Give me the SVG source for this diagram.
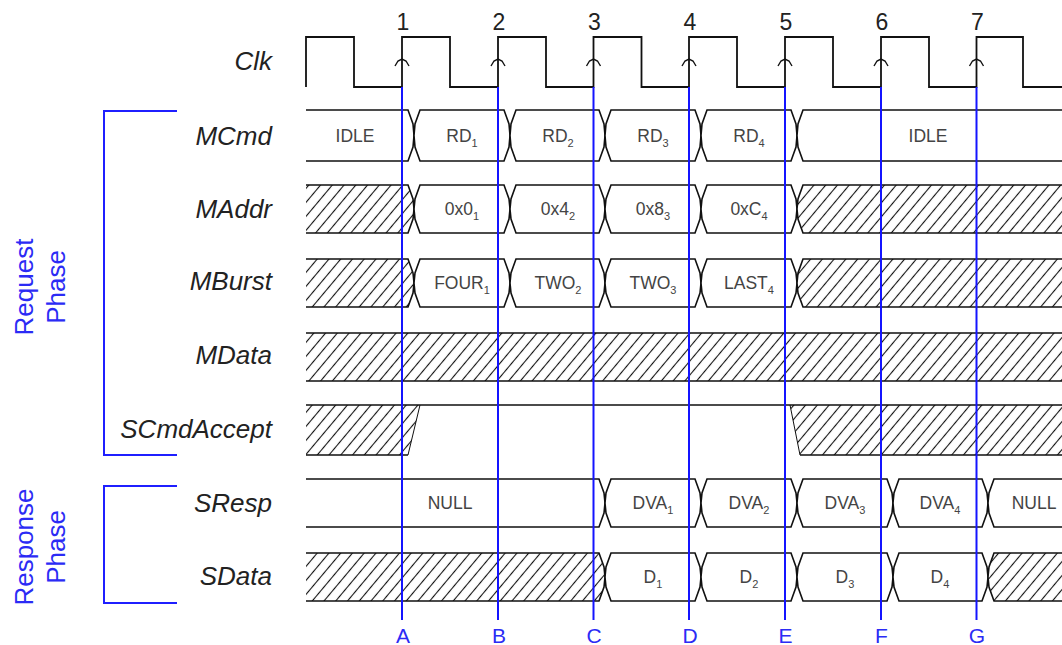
<svg xmlns="http://www.w3.org/2000/svg" width="1062" height="645" viewBox="0 0 1062 645">
<style>
.sig{fill:#fff;stroke:#111;stroke-width:1.6;stroke-linejoin:miter}
.hat{fill:url(#hatch);stroke:#111;stroke-width:1.6}
.ln{fill:none;stroke:#111;stroke-width:1.6}
.thin{fill:none;stroke:#111;stroke-width:1}
.clk{fill:none;stroke:#111;stroke-width:1.8}
.chev{fill:none;stroke:#111;stroke-width:1.4}
.edge{stroke:#1414ff;stroke-width:2}
.br{fill:none;stroke:#1f1fff;stroke-width:2}
.lbl{font-family:"Liberation Sans",Arial,sans-serif;font-style:italic;font-size:26px;fill:#222;text-anchor:end}
.val{font-family:"Liberation Sans",Arial,sans-serif;font-size:17.5px;fill:#444;text-anchor:middle}
.sub{font-size:11px}
.num{font-family:"Liberation Sans",Arial,sans-serif;font-size:23px;fill:#222;text-anchor:middle}
.let{font-family:"Liberation Sans",Arial,sans-serif;font-size:21px;fill:#2b2bf5;text-anchor:middle}
.ph{font-family:"Liberation Sans",Arial,sans-serif;font-size:26px;fill:#2b2bf5;text-anchor:middle}
</style>
<defs>
<pattern id="hatch" patternUnits="userSpaceOnUse" width="9" height="9" patternTransform="rotate(40)">
<rect width="9" height="9" fill="#fff"/>
<line x1="4.5" y1="-1" x2="4.5" y2="10" stroke="#111" stroke-width="1.1"/>
</pattern>
</defs>

<g id="phase-labels">
<path class="br" d="M177,111 H104 V455 H177"/>
<path class="br" d="M177,486 H104 V603 H177"/>
<text class="ph" transform="translate(33,287) rotate(-90)">Request</text>
<text class="ph" transform="translate(65,287) rotate(-90)">Phase</text>
<text class="ph" transform="translate(33,547) rotate(-90)">Response</text>
<text class="ph" transform="translate(65,547) rotate(-90)">Phase</text>
</g>

<g id="Clk">
<text class="lbl" x="272" y="70">Clk</text>
<path class="clk" d="M306,87 V37 H354 V87 H402 V37 H450 V87 H498 V37 H546 V87 H593.5 V37 H641.5 V87 H689 V37 H737 V87 H785 V37 H833 V87 H881 V37 H929 V87 H976.5 V37 H1023 V87 H1062"/>
<g class="chev">
<path d="M395,66 L398,61 L402,59 L406,61 L409,66"/>
<path d="M491,66 L494,61 L498,59 L502,61 L505,66"/>
<path d="M586.5,66 L589.5,61 L593.5,59 L597.5,61 L600.5,66"/>
<path d="M682,66 L685,61 L689,59 L693,61 L696,66"/>
<path d="M778,66 L781,61 L785,59 L789,61 L792,66"/>
<path d="M874,66 L877,61 L881,59 L885,61 L888,66"/>
<path d="M969.5,66 L972.5,61 L976.5,59 L980.5,61 L983.5,66"/>
</g>
<text class="num" x="403" y="30">1</text>
<text class="num" x="499" y="30">2</text>
<text class="num" x="594.5" y="30">3</text>
<text class="num" x="690" y="30">4</text>
<text class="num" x="786" y="30">5</text>
<text class="num" x="882" y="30">6</text>
<text class="num" x="977.5" y="30">7</text>
</g>

<g id="MCmd">
<text class="lbl" x="272" y="145">MCmd</text>
<path class="sig" d="M306,110 H408 L413,124 L414,135.5 L413,147 L408,161 H306"/>
<path class="sig" d="M420,110 H504 L509,124 L510,135.5 L509,147 L504,161 H420 L415,147 L414,135.5 L415,124 Z"/>
<path class="sig" d="M516,110 H599 L604,124 L605,135.5 L604,147 L599,161 H516 L511,147 L510,135.5 L511,124 Z"/>
<path class="sig" d="M611,110 H695 L700,124 L701,135.5 L700,147 L695,161 H611 L606,147 L605,135.5 L606,124 Z"/>
<path class="sig" d="M707,110 H791 L796,124 L797,135.5 L796,147 L791,161 H707 L702,147 L701,135.5 L702,124 Z"/>
<path class="sig" d="M1062,110 H803 L798,124 L797,135.5 L798,147 L803,161 H1062"/>
<text class="val" x="355" y="142">IDLE</text>
<text class="val" x="462" y="142">RD<tspan class="sub" dy="5">1</tspan></text>
<text class="val" x="558" y="142">RD<tspan class="sub" dy="5">2</tspan></text>
<text class="val" x="653" y="142">RD<tspan class="sub" dy="5">3</tspan></text>
<text class="val" x="749" y="142">RD<tspan class="sub" dy="5">4</tspan></text>
<text class="val" x="928" y="142">IDLE</text>
</g>

<g id="MAddr">
<text class="lbl" x="272" y="218">MAddr</text>
<path class="hat" d="M306,185 H408 L413,199 L414,209 L413,219 L408,233 H306"/>
<path class="sig" d="M420,185 H504 L509,199 L510,209 L509,219 L504,233 H420 L415,219 L414,209 L415,199 Z"/>
<path class="sig" d="M516,185 H599 L604,199 L605,209 L604,219 L599,233 H516 L511,219 L510,209 L511,199 Z"/>
<path class="sig" d="M611,185 H695 L700,199 L701,209 L700,219 L695,233 H611 L606,219 L605,209 L606,199 Z"/>
<path class="sig" d="M707,185 H791 L796,199 L797,209 L796,219 L791,233 H707 L702,219 L701,209 L702,199 Z"/>
<path class="hat" d="M1062,185 H803 L798,199 L797,209 L798,219 L803,233 H1062"/>
<text class="val" x="462" y="215">0x0<tspan class="sub" dy="5">1</tspan></text>
<text class="val" x="558" y="215">0x4<tspan class="sub" dy="5">2</tspan></text>
<text class="val" x="653" y="215">0x8<tspan class="sub" dy="5">3</tspan></text>
<text class="val" x="749" y="215">0xC<tspan class="sub" dy="5">4</tspan></text>
</g>

<g id="MBurst">
<text class="lbl" x="272" y="290">MBurst</text>
<path class="hat" d="M306,259 H408 L413,273 L414,283 L413,293 L408,307 H306"/>
<path class="sig" d="M420,259 H504 L509,273 L510,283 L509,293 L504,307 H420 L415,293 L414,283 L415,273 Z"/>
<path class="sig" d="M516,259 H599 L604,273 L605,283 L604,293 L599,307 H516 L511,293 L510,283 L511,273 Z"/>
<path class="sig" d="M611,259 H695 L700,273 L701,283 L700,293 L695,307 H611 L606,293 L605,283 L606,273 Z"/>
<path class="sig" d="M707,259 H791 L796,273 L797,283 L796,293 L791,307 H707 L702,293 L701,283 L702,273 Z"/>
<path class="hat" d="M1062,259 H803 L798,273 L797,283 L798,293 L803,307 H1062"/>
<text class="val" x="462" y="289">FOUR<tspan class="sub" dy="5">1</tspan></text>
<text class="val" x="558" y="289">TWO<tspan class="sub" dy="5">2</tspan></text>
<text class="val" x="653" y="289">TWO<tspan class="sub" dy="5">3</tspan></text>
<text class="val" x="749" y="289">LAST<tspan class="sub" dy="5">4</tspan></text>
</g>

<g id="MData">
<text class="lbl" x="272" y="364">MData</text>
<rect x="306" y="333" width="756" height="48" fill="url(#hatch)"/>
<path class="ln" d="M306,333 H1062 M306,381 H1062"/>
</g>

<g id="SCmdAccept">
<text class="lbl" x="272" y="438">SCmdAccept</text>
<path d="M306,405 H420 L408,455 H306 Z" fill="url(#hatch)"/>
<path d="M790,405 H1062 V455 H800 Z" fill="url(#hatch)"/>
<path class="ln" d="M306,405 H1062 M306,455 H408 M800,455 H1062"/>
<path class="thin" d="M420,405 L408,455 M790,405 L800,455"/>
</g>

<g id="SResp">
<text class="lbl" x="272" y="512">SResp</text>
<path class="sig" d="M306,479 H599 L604,493 L605,503 L604,513 L599,527 H306"/>
<path class="sig" d="M611,479 H695 L700,493 L701,503 L700,513 L695,527 H611 L606,513 L605,503 L606,493 Z"/>
<path class="sig" d="M707,479 H791 L796,493 L797,503 L796,513 L791,527 H707 L702,513 L701,503 L702,493 Z"/>
<path class="sig" d="M803,479 H887 L892,493 L893,503 L892,513 L887,527 H803 L798,513 L797,503 L798,493 Z"/>
<path class="sig" d="M899,479 H982 L987,493 L988,503 L987,513 L982,527 H899 L894,513 L893,503 L894,493 Z"/>
<path class="sig" d="M1062,479 H994 L989,493 L988,503 L989,513 L994,527 H1062"/>
<text class="val" x="450" y="509">NULL</text>
<text class="val" x="653" y="509">DVA<tspan class="sub" dy="5">1</tspan></text>
<text class="val" x="749" y="509">DVA<tspan class="sub" dy="5">2</tspan></text>
<text class="val" x="845" y="509">DVA<tspan class="sub" dy="5">3</tspan></text>
<text class="val" x="940" y="509">DVA<tspan class="sub" dy="5">4</tspan></text>
<text class="val" x="1034" y="509">NULL</text>
</g>

<g id="SData">
<text class="lbl" x="272" y="585">SData</text>
<path class="hat" d="M306,553 H599 L604,567 L605,577 L604,587 L599,601 H306"/>
<path class="sig" d="M611,553 H695 L700,567 L701,577 L700,587 L695,601 H611 L606,587 L605,577 L606,567 Z"/>
<path class="sig" d="M707,553 H791 L796,567 L797,577 L796,587 L791,601 H707 L702,587 L701,577 L702,567 Z"/>
<path class="sig" d="M803,553 H887 L892,567 L893,577 L892,587 L887,601 H803 L798,587 L797,577 L798,567 Z"/>
<path class="sig" d="M899,553 H982 L987,567 L988,577 L987,587 L982,601 H899 L894,587 L893,577 L894,567 Z"/>
<path class="hat" d="M1062,553 H994 L989,567 L988,577 L989,587 L994,601 H1062"/>
<text class="val" x="653" y="583">D<tspan class="sub" dy="5">1</tspan></text>
<text class="val" x="749" y="583">D<tspan class="sub" dy="5">2</tspan></text>
<text class="val" x="845" y="583">D<tspan class="sub" dy="5">3</tspan></text>
<text class="val" x="940" y="583">D<tspan class="sub" dy="5">4</tspan></text>
</g>

<g id="connectors">
<line class="edge" x1="402" y1="87" x2="402" y2="620"/>
<line class="edge" x1="498" y1="87" x2="498" y2="620"/>
<line class="edge" x1="593.5" y1="87" x2="593.5" y2="620"/>
<line class="edge" x1="689" y1="87" x2="689" y2="620"/>
<line class="edge" x1="785" y1="87" x2="785" y2="620"/>
<line class="edge" x1="881" y1="87" x2="881" y2="620"/>
<line class="edge" x1="976.5" y1="87" x2="976.5" y2="620"/>
<text class="let" x="403" y="643">A</text>
<text class="let" x="499" y="643">B</text>
<text class="let" x="594" y="643">C</text>
<text class="let" x="690" y="643">D</text>
<text class="let" x="785.5" y="643">E</text>
<text class="let" x="881.5" y="643">F</text>
<text class="let" x="977" y="643">G</text>
</g>
</svg>
